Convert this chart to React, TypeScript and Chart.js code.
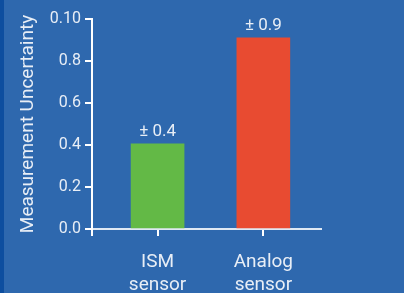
import React, { useEffect, useRef } from "react";
import { Chart, registerables } from "chart.js";

Chart.register(...registerables);

const categories = [["ISM", "sensor"], ["Analog", "sensor"]];
const values = [0.405, 0.91];
const valueLabels = ["± 0.4", "± 0.9"];
const barColors = ["#63b946", "#e84b31"];
const yTickLabels: Record<string, string> = { "0": "0.0", "0.2": "0.2", "0.4": "0.4", "0.6": "0.6", "0.8": "0.8", "1": "0.10" };
const yTitle = "Measurement Uncertainty";

const BG = "#2e68ae";
const TEXT = "#e8eef6";
const FONT = "Roboto, 'Noto Sans', sans-serif";

const valueLabelPlugin = {
  id: "valueLabels",
  afterDatasetsDraw(chart: any) {
    const ctx = chart.ctx;
    const meta = chart.getDatasetMeta(0);
    ctx.save();
    ctx.fillStyle = TEXT;
    ctx.font = `17px ${FONT}`;
    ctx.textAlign = "center";
    ctx.textBaseline = "bottom";
    meta.data.forEach((el: any, i: number) => {
      ctx.fillText(valueLabels[i], el.x, el.y - 4);
    });
    ctx.restore();
  },
};

export default function App() {
  const ref = useRef<HTMLCanvasElement>(null);
  useEffect(() => {
    if (!ref.current) return;
    const chart = new Chart(ref.current, {
      type: "bar",
      data: {
        datasets: [
          {
            data: values.map((v, i) => ({ x: i, y: v })),
            backgroundColor: barColors,
            barThickness: 53,
            borderWidth: 0,
          },
        ],
      },
      options: {
        animation: false,
        responsive: false,
        maintainAspectRatio: false,
        events: [],
        layout: { padding: { top: 19, right: 83, left: 0, bottom: 0 } },
        plugins: { legend: { display: false }, tooltip: { enabled: false } },
        scales: {
          x: {
            type: "linear",
            offset: false,
            min: -0.62,
            max: 1.545,
            afterBuildTicks: (s: any) => {
              s.ticks = [{ value: s.min }, { value: 0 }, { value: 1 }];
            },
            afterFit: (s: any) => {
              s.height = 64;
            },
            ticks: {
              color: TEXT,
              font: { family: FONT, size: 19, lineHeight: 1.25 },
              padding: 14,
              maxRotation: 0,
              autoSkip: false,
              callback: (v: any) => (v === 0 || v === 1 ? categories[v] : ""),
            },
            grid: {
              display: true,
              offset: false,
              drawOnChartArea: false,
              drawTicks: true,
              tickLength: 7,
              color: "#ffffff",
              lineWidth: 2,
            },
            border: { display: true, color: "#dfe8f3", width: 2 },
          },
          y: {
            min: 0,
            max: 1,
            afterBuildTicks: (s: any) => {
              s.ticks = [0, 0.2, 0.4, 0.6, 0.8, 1].map((v) => ({ value: v }));
            },
            afterFit: (s: any) => {
              s.width = 92;
            },
            ticks: {
              color: TEXT,
              font: { family: FONT, size: 16 },
              padding: 4,
              callback: (v: any) => yTickLabels[String(Math.round(v * 10) / 10)] ?? "",
            },
            grid: {
              display: true,
              drawOnChartArea: false,
              drawTicks: true,
              tickLength: 7,
              color: "#ffffff",
              lineWidth: 2,
            },
            border: { display: true, color: "#ffffff", width: 2 },
            title: {
              display: true,
              text: yTitle,
              color: TEXT,
              font: { family: FONT, size: 19 },
              padding: { top: 17, bottom: 0 },
            },
          },
        },
      },
      plugins: [valueLabelPlugin],
    });
    return () => chart.destroy();
  }, []);
  return (
    <div
      style={{
        position: "fixed",
        left: 0,
        top: 0,
        width: 404,
        height: 293,
        background: BG,
        overflow: "hidden",
      }}
    >
      <div style={{ position: "absolute", left: 0, top: 0, width: 4, height: 293, background: "#0d4e9f" }} />
      <canvas ref={ref} width={404} height={293} style={{ position: "absolute", left: 0, top: 0 }} />
    </div>
  );
}
